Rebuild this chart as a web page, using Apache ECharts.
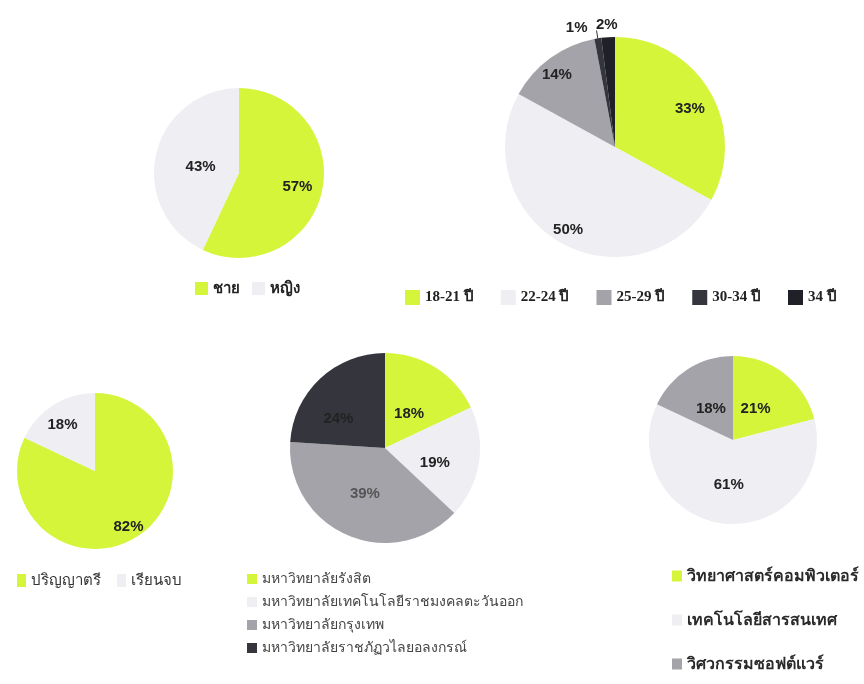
<!DOCTYPE html>
<html>
<head>
<meta charset="utf-8">
<script src="https://cdn.jsdelivr.net/npm/echarts@6/dist/echarts.min.js"></script>
<style>
  html, body { margin: 0; padding: 0; background: #fff; }
  #main { width: 864px; height: 684px; }
</style>
</head>
<body>
<div id="main"></div>
<script>
// data
const genderNames = ['ชาย', 'หญิง'];
const genderValues = [57, 43];

const ageNames = ['18-21 ปี', '22-24 ปี', '25-29 ปี', '30-34 ปี', '34 ปี'];
const ageValues = [33, 50, 14, 1, 2];

const eduNames = ['ปริญญาตรี', 'เรียนจบ'];
const eduValues = [82, 18];

const uniNames = [
  'มหาวิทยาลัยรังสิต',
  'มหาวิทยาลัยเทคโนโลยีราชมงคลตะวันออก',
  'มหาวิทยาลัยกรุงเทพ',
  'มหาวิทยาลัยราชภัฏวไลยอลงกรณ์'
];
const uniValues = [18, 19, 39, 24];

const majorNames = ['วิทยาศาสตร์คอมพิวเตอร์', 'เทคโนโลยีสารสนเทศ', 'วิศวกรรมซอฟต์แวร์'];
const majorValues = [21, 61, 18];

const green = '#d4f53a';
const light = '#eeeef3';
const mid = '#a3a3a9';
const dark = '#34353d';
const darker = '#1f2028';

function toData(names, values) {
  return names.map((n, i) => ({ name: n, value: values[i] }));
}

// nudges so the labels sit where the original put them
function shifter(shifts) {
  return function (p) {
    const s = shifts[p.dataIndex];
    if (s) return { dx: s[0], dy: s[1] };
  };
}

const labelBase = {
  show: true,
  position: 'inside',
  formatter: '{c}%',
  color: '#222',
  fontSize: 15,
  fontWeight: 'bold',
  fontFamily: 'Liberation Sans, Arial, sans-serif'
};

function pie(name, names, values, colors, center, radius, extra) {
  return Object.assign({
    name: name,
    type: 'pie',
    center: center,
    radius: radius,
    avoidLabelOverlap: false,
    data: toData(names, values),
    color: colors,
    label: labelBase,
    labelLine: { show: false },
    itemStyle: { borderWidth: 0 },
    emphasis: { disabled: true }
  }, extra || {});
}

const thaiText = { fontSize: 14, color: '#333', fontFamily: 'Noto Sans, sans-serif' };

let chart = echarts.init(document.getElementById('main'));
chart.setOption({
  animation: false,
  backgroundColor: '#fff',
  legend: [
    {
      data: genderNames,
      left: 190, top: 276,
      icon: 'rect', itemWidth: 13, itemHeight: 13, itemGap: 12,
      textStyle: Object.assign({}, thaiText, { fontSize: 15, fontWeight: 'bold', color: '#222' })
    },
    {
      data: ageNames,
      left: 400, top: 285,
      icon: 'rect', itemWidth: 15, itemHeight: 15, itemGap: 27,
      textStyle: { fontSize: 15, fontWeight: 'bold', color: '#222', fontFamily: 'Liberation Serif, serif' }
    },
    {
      data: eduNames,
      left: 12, top: 568,
      icon: 'rect', itemWidth: 9, itemHeight: 13, itemGap: 16,
      textStyle: Object.assign({}, thaiText, { fontSize: 15 })
    },
    {
      data: uniNames,
      orient: 'vertical',
      left: 242, top: 567,
      icon: 'rect', itemWidth: 10, itemHeight: 10, itemGap: 9,
      textStyle: Object.assign({}, thaiText, { color: '#444' })
    },
    {
      data: majorNames,
      orient: 'vertical',
      left: 667, top: 563,
      icon: 'rect', itemWidth: 10, itemHeight: 11, itemGap: 28,
      textStyle: Object.assign({}, thaiText, { fontSize: 16, fontWeight: 'bold', color: '#2a2a2a' })
    }
  ],
  series: [
    pie('gender', genderNames, genderValues, [green, light], [239, 173], 85, {
      labelLayout: shifter({ 0: [14, 4], 1: [6, 4] })
    }),
    pie('age', ageNames, ageValues, [green, light, mid, dark, darker], [615, 147], 110, {
      labelLayout: shifter({ 0: [25, -9], 1: [-19, 32], 2: [-24, -25], 3: [-8, -3], 4: [11, -4] }),
      data: ageNames.map((n, i) => {
        const d = { name: n, value: ageValues[i] };
        if (i >= 3) {
          d.label = { position: 'outside', distanceToLabelLine: 1 };
          d.labelLine = { show: i === 3, length: 8, length2: 0, lineStyle: { color: '#333', width: 1 } };
        }
        return d;
      })
    }),
    pie('edu', eduNames, eduValues, [green, light], [95, 471], 78, {
      labelLayout: shifter({ 0: [11, 20], 1: [-10, -11] })
    }),
    pie('uni', uniNames, uniValues, [green, light, mid, dark], [385, 448], 95, {
      labelLayout: shifter({ 0: [-3, 8], 1: [0, 7], 3: [-12, 8] }),
      data: uniNames.map((n, i) => {
        const d = { name: n, value: uniValues[i] };
        if (i === 2) d.label = { color: '#555' };
        return d;
      })
    }),
    pie('major', majorNames, majorValues, [green, light, mid], [733, 440], 84, {
      labelLayout: shifter({ 0: [-5, 4], 2: [2, 7] })
    })
  ]
});

window.onresize = () => {
  chart.resize();
};
</script>
</body>
</html>
